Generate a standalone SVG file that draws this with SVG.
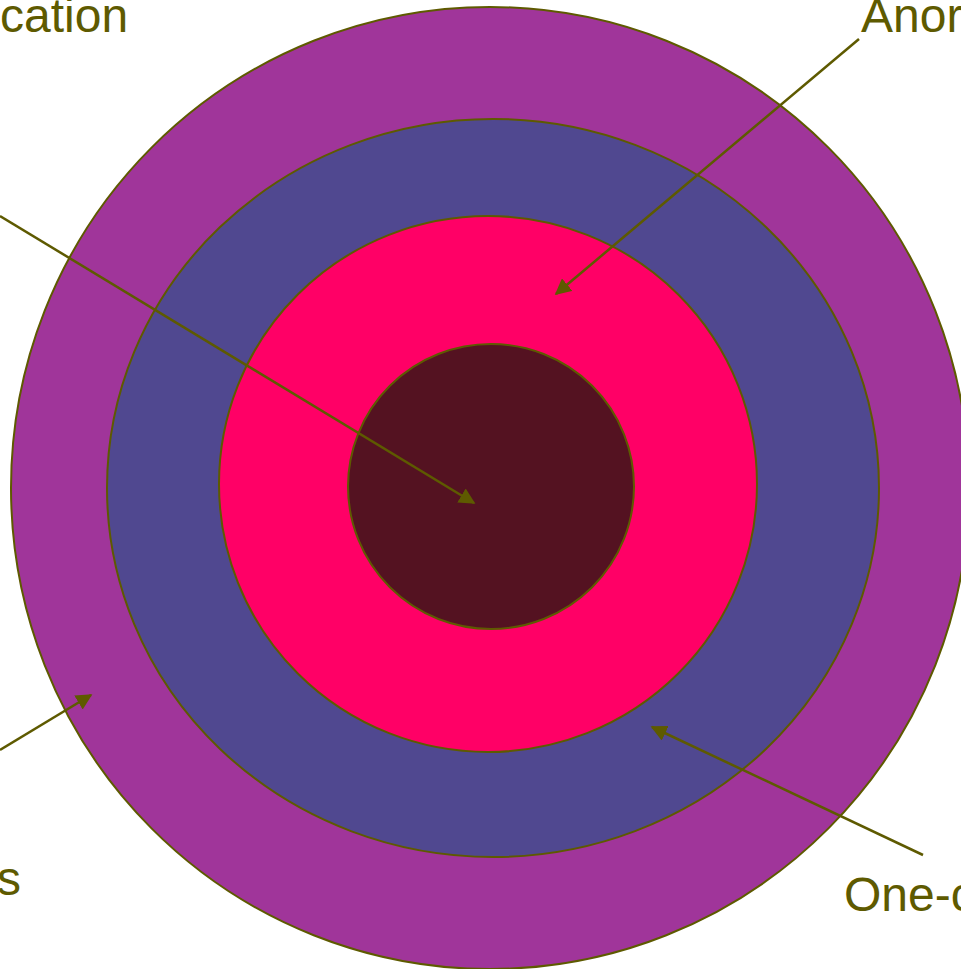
<svg xmlns="http://www.w3.org/2000/svg" width="961" height="969" viewBox="0 0 961 969">
<defs>
<style>
.ring{stroke:#5E5A00;stroke-width:2}
.lbl{font-family:"Liberation Sans",Arial,sans-serif;font-size:48px;fill:#5E5A00}
.conn{stroke:#5E5A00;stroke-width:2.5;fill:none;marker-end:url(#ah)}
</style>
<marker id="ah" viewBox="0 0 10 10" refX="9" refY="5" markerWidth="6.5" markerHeight="6.5" markerUnits="strokeWidth" orient="auto">
<path d="M0,0 L10,5 L0,10 z" fill="#5E5A00"/>
</marker>
</defs>
<rect width="961" height="969" fill="#FFFFFF"/>
<g id="outer"><ellipse class="ring" cx="490" cy="488" rx="479" ry="481" fill="#A0359A"/></g>
<g id="second"><ellipse class="ring" cx="493" cy="488" rx="386" ry="369" fill="#504890"/></g>
<g id="third"><ellipse class="ring" cx="488" cy="484" rx="269" ry="268" fill="#FF0066"/></g>
<g id="inner"><ellipse class="ring" cx="491" cy="486.5" rx="143" ry="142.5" fill="#541221"/></g>
<g id="labels">
<text class="lbl" x="0" y="32">cation</text>
<text class="lbl" x="861" y="32">Anor</text>
<text class="lbl" x="-3" y="895">s</text>
<text class="lbl" x="844" y="911">One-c</text>
</g>
<g id="connectors">
<line class="conn" x1="0" y1="216" x2="474" y2="503"/>
<line class="conn" x1="859" y1="39" x2="556" y2="294"/>
<line class="conn" x1="0" y1="750" x2="91" y2="695"/>
<line class="conn" x1="923" y1="855" x2="652" y2="727"/>
</g>
</svg>
